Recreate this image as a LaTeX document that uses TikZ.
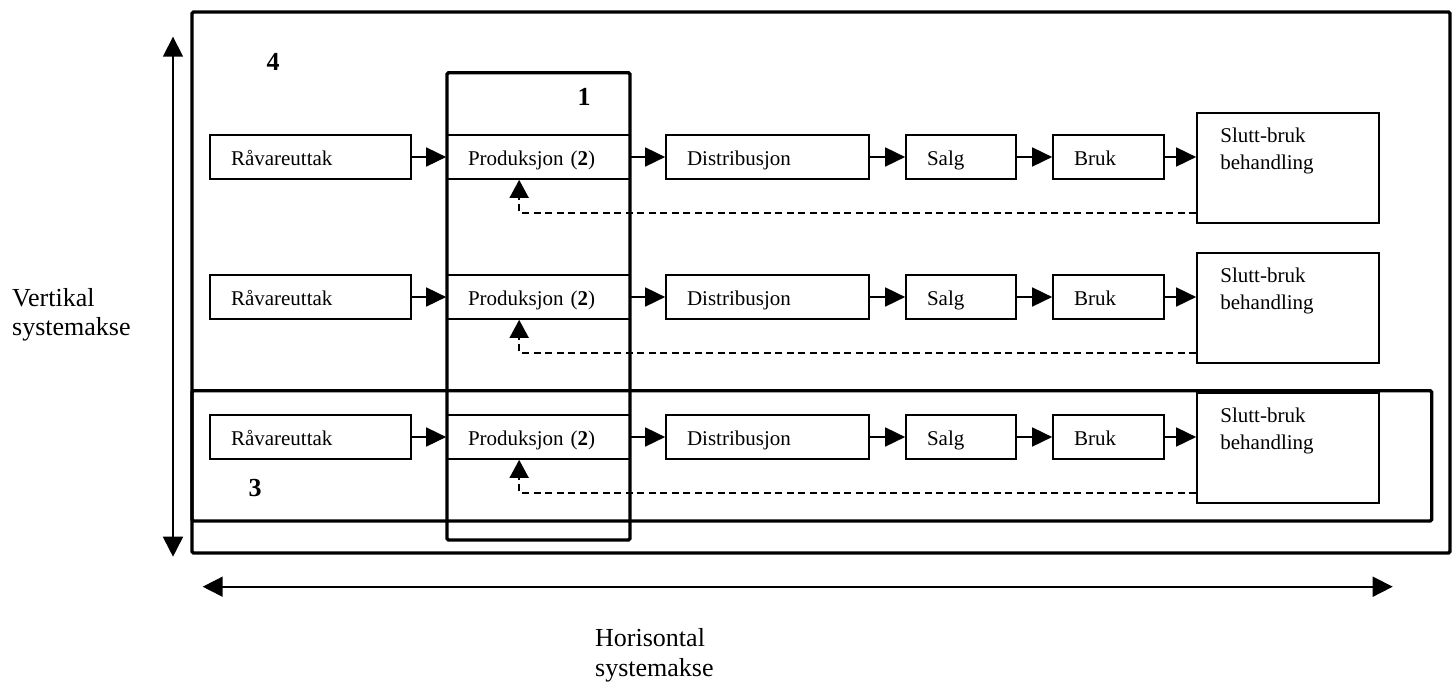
\documentclass[tikz,border=0pt]{standalone}
\usepackage{fontspec}
\setmainfont{Liberation Serif}
\usetikzlibrary{arrows.meta,calc}
\begin{document}
\begin{tikzpicture}[x=1pt,y=-1pt,
  boxfont/.style={font=\fontsize{21}{26.5}\selectfont},
  stagebox/.style={draw,line width=1.7pt,rectangle,minimum height=44pt,inner xsep=21pt,inner ysep=0pt,
    align=left,text height=17.2pt,text depth=0pt,boxfont},
  endbox/.style={draw,line width=1.7pt,rectangle,minimum width=182pt,minimum height=110pt,inner sep=0pt},
  endtext/.style={anchor=north west,inner sep=0pt,align=left,boxfont},
  flow/.style={line width=1.7pt,-{Triangle[length=20pt,width=19pt]}},
  ret/.style={line width=1.7pt,dash pattern=on 7pt off 4.5pt,-{Triangle[length=18pt,width=19pt]}},
  sysbox/.style={line width=3.3pt,rounded corners=1.5pt},
  axis/.style={line width=1.7pt,{Triangle[length=20pt,width=20pt]}-{Triangle[length=20pt,width=20pt]}},
  numlabel/.style={font=\fontsize{26}{30}\selectfont\bfseries,inner sep=0pt},
  axislabel/.style={anchor=base west,inner sep=0pt,align=left}
]
\useasboundingbox (0,0) rectangle (1455,685);

\foreach \i/\dy in {1/0,2/140,3/280}{
  \node[stagebox,minimum width=201pt,text width=159pt] (r\i) at (310.5,157+\dy) {Råvareuttak};
  \node[stagebox,minimum width=183pt,text width=141pt] (p\i) at (538.5,157+\dy) {Produksjon (\textbf{2})};
  \node[stagebox,minimum width=203pt,text width=161pt] (d\i) at (767.5,157+\dy) {Distribusjon};
  \node[stagebox,minimum width=110pt,text width=68pt] (sa\i) at (961,157+\dy) {Salg};
  \node[stagebox,minimum width=111pt,text width=69pt] (b\i) at (1108.5,157+\dy) {Bruk};
  \node[endbox] (s\i) at (1288,168+\dy) {};
  \node[endtext] (sl\i) at ([xshift=24pt,yshift=-16pt]s\i.north west) {Slutt-bruk\\behandling};
  \draw[flow] (r\i) -- (p\i);
  \draw[flow] (p\i) -- (d\i);
  \draw[flow] (d\i) -- (sa\i);
  \draw[flow] (sa\i) -- (b\i);
  \draw[flow] (b\i.east) -- (b\i.east -| s\i.west);
  \draw[ret] ([yshift=11pt]s\i.south west) -| ([xshift=73pt]p\i.south west);
}

% system boundaries
\draw[sysbox] (192,12) rectangle (1450,553);
\draw[sysbox] (447,72.7) rectangle (630,540);
\draw[sysbox] (192,390.7) rectangle (1431.7,521);

\node[numlabel] (n4) at (273,62) {4};
\node[numlabel] (n1) at (584,97) {1};
\node[numlabel] (n3) at (255,488) {3};

% axes
\coordinate (vtop) at (173,36.7);
\coordinate (vbot) at (173,556.7);
\draw[axis] (vtop) -- (vbot);
\coordinate (hl) at (202.7,586.7);
\coordinate (hr) at (1392.7,586.7);
\draw[axis] (hl) -- (hr);

\node[axislabel,font=\fontsize{26}{28.3}\selectfont] (vl) at (12,335) {Vertikal\\systemakse};
\node[axislabel,font=\fontsize{26}{30}\selectfont] (hlab) at (595,676.7) {Horisontal\\systemakse};
\end{tikzpicture}
\end{document}
